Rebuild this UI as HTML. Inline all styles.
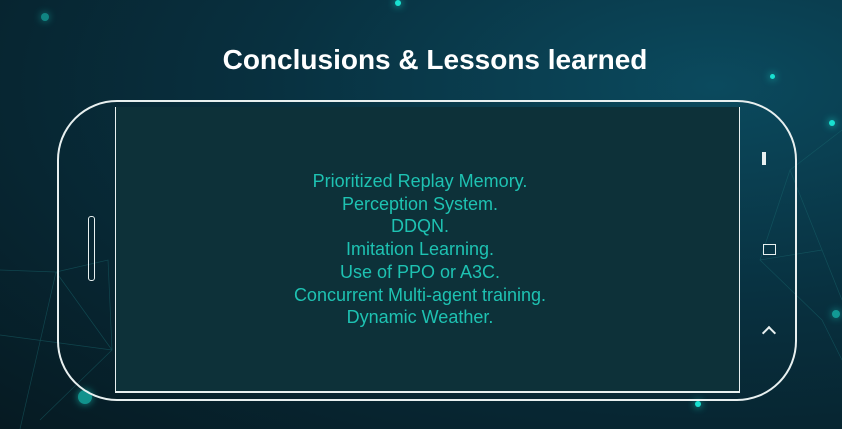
<!DOCTYPE html>
<html><head><meta charset="utf-8"><style>
body{margin:0;width:842px;height:429px;overflow:hidden;font-family:"Liberation Sans",sans-serif;}
#bg{position:absolute;left:0;top:0;width:842px;height:429px;background:radial-gradient(ellipse at 85% 20%,#0b4a5e 0%,#08303f 45%,#061a22 100%);}
.dot{position:absolute;border-radius:50%;background:#19e0d0;box-shadow:0 0 8px #19e0d0;}
</style></head><body>
<div id="bg"></div>
<svg width="842" height="429" style="position:absolute;left:0;top:0">
<g stroke="#1a6a70" stroke-width="0.7" opacity="0.5" fill="none">
<path d="M0 270 L56 272 L108 260 L112 350 L40 420 M56 272 L112 350 M0 335 L112 350 M20 429 L56 272"/>
<path d="M842 130 L790 170 L822 250 L842 300 M790 170 L760 260 L822 320 L842 360 M822 250 L760 260"/>
</g></svg>
<div class="dot" style="left:395px;top:0px;width:6px;height:6px"></div>
<div class="dot" style="left:41px;top:13px;width:8px;height:8px;opacity:.5"></div>
<div class="dot" style="left:829px;top:120px;width:6px;height:6px"></div>
<div class="dot" style="left:770px;top:74px;width:5px;height:5px"></div>
<div class="dot" style="left:78px;top:390px;width:14px;height:14px;opacity:.6"></div>
<div class="dot" style="left:695px;top:401px;width:6px;height:6px"></div>
<div class="dot" style="left:832px;top:310px;width:8px;height:8px;opacity:.6"></div>
<div style="position:absolute;left:14px;top:44px;width:842px;text-align:center;color:#fff;font-weight:bold;font-size:28px;letter-spacing:0px">Conclusions &amp; Lessons learned</div>
<div style="position:absolute;left:57px;top:100px;width:736px;height:297px;border:2px solid #e8f0f0;border-radius:60px"></div>
<div style="position:absolute;left:115px;top:107px;width:623px;height:284px;background:#0d3139;border-left:1px solid #e8f0f0;border-right:1px solid #e8f0f0;border-bottom:2px solid #e8f0f0"></div>
<div style="position:absolute;left:88px;top:216px;width:5px;height:63px;border:1.5px solid #e8f0f0;border-radius:3px"></div>
<div style="position:absolute;left:762px;top:152px;width:4px;height:13px;background:#e8f0f0"></div>
<div style="position:absolute;left:763px;top:244px;width:11px;height:9px;border:1.5px solid #e8f0f0"></div>
<div style="position:absolute;left:764px;top:328px;width:8px;height:8px;border-left:2px solid #e8f0f0;border-top:2px solid #e8f0f0;transform:rotate(45deg)"></div>
<div style="position:absolute;left:109px;top:170px;width:622px;text-align:center;color:#1ec2b2;font-size:18px;line-height:22.7px">
<div>Prioritized Replay Memory.</div>
<div>Perception System.</div>
<div>DDQN.</div>
<div>Imitation Learning.</div>
<div>Use of PPO or A3C.</div>
<div>Concurrent Multi-agent training.</div>
<div>Dynamic Weather.</div>
</div>
</body></html>
